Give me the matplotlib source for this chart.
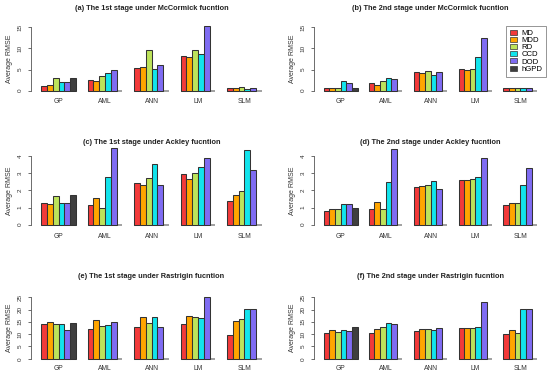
import matplotlib
matplotlib.use("Agg")
import matplotlib.pyplot as plt
from matplotlib.patches import Patch

plt.rcParams["font.family"] = ["Liberation Sans", "DejaVu Sans"]

# designs (bar series) and models (groups)
designs = ["MD", "MDD", "RD", "CCD", "DOD", "hGPD"]
models = ["GP", "AML", "ANN", "LM", "SLM"]
colors = ["#F23A3A", "#FFA500", "#BDE35A", "#12E4EC", "#7F6CF2", "#3F3F3F"]

# Average RMSE per model; only GP has an hGPD value
mcc_stage1 = [[1.1, 1.25, 3.0, 2.0, 2.0, 3.0],
              [2.5, 2.4, 3.55, 4.25, 4.8],
              [5.45, 5.7, 9.55, 5.05, 6.1],
              [8.1, 8.0, 9.55, 8.6, 15.4],
              [0.55, 0.55, 0.95, 0.5, 0.6]]
mcc_stage2 = [[0.55, 0.55, 0.7, 2.3, 1.9, 0.55],
              [1.75, 1.35, 2.3, 3.0, 2.75],
              [4.5, 4.25, 4.65, 3.7, 4.35],
              [5.05, 4.9, 5.2, 8.0, 12.4],
              [0.55, 0.55, 0.55, 0.55, 0.55]]
ack_stage1 = [[1.29, 1.19, 1.66, 1.29, 1.27, 1.72],
              [1.15, 1.55, 0.98, 2.78, 4.5],
              [2.45, 2.31, 2.72, 3.57, 2.33],
              [2.96, 2.67, 3.04, 3.39, 3.9],
              [1.37, 1.76, 1.96, 4.37, 3.18]]
ack_stage2 = [[0.82, 0.94, 0.9, 1.19, 1.23, 0.96],
              [0.92, 1.35, 0.9, 2.48, 4.45],
              [2.2, 2.24, 2.31, 2.57, 2.08],
              [2.61, 2.61, 2.65, 2.8, 3.9],
              [1.18, 1.24, 1.24, 2.33, 3.3]]
ras_stage1 = [[14.05, 14.9, 14.3, 14.3, 11.5, 14.7],
              [12.0, 15.8, 13.2, 13.9, 15.1],
              [12.9, 16.8, 14.6, 16.8, 13.1],
              [14.0, 17.4, 16.8, 16.5, 25.0],
              [9.7, 15.2, 16.3, 20.1, 20.1]]
ras_stage2 = [[10.5, 11.7, 10.9, 11.6, 11.3, 13.1],
              [10.5, 12.0, 12.9, 14.5, 14.0],
              [11.4, 12.2, 12.0, 11.5, 12.4],
              [12.5, 12.6, 12.6, 12.9, 23.0],
              [10.1, 11.7, 10.4, 20.1, 20.1]]

titles = ["(a) The 1st stage under McCormick fucntion",
          "(b) The 2nd stage under McCormick fucntion",
          "(c) The 1st stage under Ackley fucntion",
          "(d) The 2nd stage under Ackley fucntion",
          "(e) The 1st stage under Rastrigin fucntion",
          "(f) The 2nd stage under Rastrigin fucntion"]
panels = [mcc_stage1, mcc_stage2, ack_stage1, ack_stage2, ras_stage1, ras_stage2]
row_ymax = [15, 4, 25]
row_ticks = [[0, 5, 10, 15], [0, 1, 2, 3, 4], [0, 5, 10, 15, 20, 25]]

W, H = 550, 376
fig = plt.figure(figsize=(W / 100, H / 100), dpi=100)

# pixel layout: (left, right) per column, (top, bottom) per row
cols = [(31, 272), (314, 547)]
rows = [(24.7, 93.2), (153.6, 227.4), (294.8, 361.2)]
title_y = [9, 142, 276]
label_y = [102, 236, 369]

def px_rect(l, r, t, b):
    return [l / W, 1 - b / H, (r - l) / W, (b - t) / H]

for k, data in enumerate(panels):
    ri, ci = divmod(k, 2)
    l, r = cols[ci]
    t, b = rows[ri]
    ax = fig.add_axes(px_rect(l, r, t, b))
    ymax = row_ymax[ri]
    pad = 0.04 * ymax
    ax.set_ylim(-pad, ymax + pad)
    ax.set_xlim(0.25, 41.75)
    unit_px = (r - l) / 41.5

    for g, vals in enumerate(data):
        start = 2 + 8 * g
        ax.plot([start, start + 6], [0, 0], color="#9a9a9a", lw=1.3,
                solid_capstyle="butt", zorder=1, clip_on=False)
        for j, v in enumerate(vals):
            ax.bar(start + j + 0.5, v, width=1, color=colors[j],
                   edgecolor="#333333", linewidth=0.75, zorder=2, clip_on=False)
        # group label below the axes, at its pixel row
        xg = (l + (start + 3 - 0.25) * unit_px) / W
        fig.text(xg, 1 - label_y[ri] / H, models[g], ha="center", va="center",
                 fontsize=4.9, color="#333333")

    for s in ["top", "right", "bottom"]:
        ax.spines[s].set_visible(False)
    ax.spines["left"].set_bounds(0, row_ticks[ri][-1])
    ax.spines["left"].set_color("#555555")
    ax.spines["left"].set_linewidth(0.6)
    ax.set_xticks([])
    ax.set_yticks(row_ticks[ri])
    ax.set_yticklabels([str(v) for v in row_ticks[ri]], rotation=90, va="center",
                       fontsize=4.6, color="#333333")
    ax.tick_params(axis="y", length=2.5, width=0.6, color="#555555", pad=3.5)
    ax.set_ylabel("Average RMSE", fontsize=5.0, color="#333333", labelpad=3.5)
    ax.patch.set_visible(False)

    fig.text((l + r) / 2 / W, 1 - title_y[ri] / H, titles[k], ha="center",
             va="center", fontsize=5.3, fontweight="bold", color="#222222")

    if k == 1:
        handles = [Patch(facecolor=c, edgecolor="#333333", linewidth=0.5) for c in colors]
        leg = ax.legend(handles, designs, loc="upper left",
                        bbox_to_anchor=((506 - l) / (r - l), (b - 25.7) / (b - t)),
                        fontsize=5.6, frameon=True, fancybox=False,
                        handlelength=0.9, handleheight=0.6, handletextpad=0.6,
                        labelspacing=0.0, borderpad=0.5, borderaxespad=0)
        leg.get_frame().set_edgecolor("#666666")
        leg.get_frame().set_linewidth(0.6)

fig.savefig("out.png", dpi=100)
